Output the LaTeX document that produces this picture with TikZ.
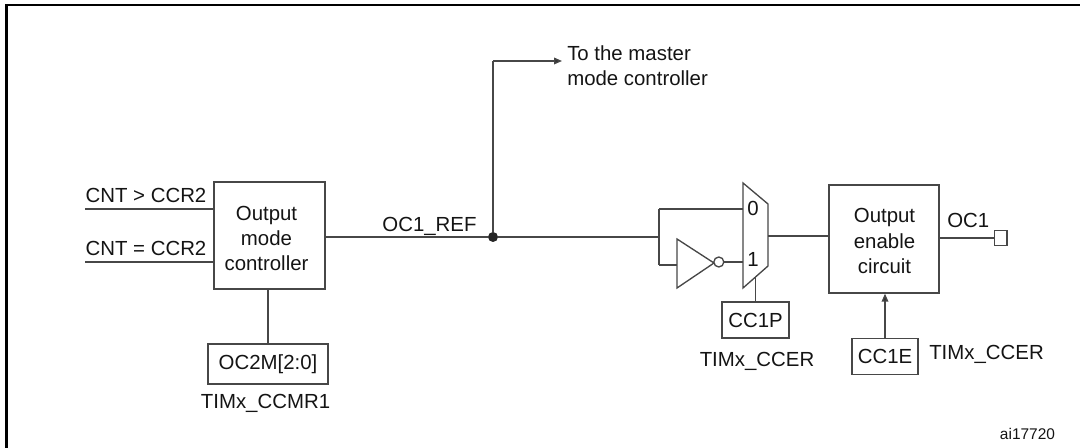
\documentclass[tikz,border=0pt]{standalone}
\usepackage{fontspec}
\setmainfont{Liberation Sans}
\usetikzlibrary{arrows.meta,calc}
\tikzset{
  wire/.style={draw=black!72,line width=1pt},
  arrowwire/.style={wire,-{Triangle[length=6pt,width=5pt,fill=black!80]}},
  frameline/.style={draw=black,line width=1.6pt},
  boxnode/.style={draw=black!72,line width=1pt,rectangle,inner sep=0pt,align=center,text=black!92,font=\fontsize{15.3pt}{19pt}\selectfont},
  boxtext/.style={inner sep=0pt,align=center,text=black!92,font=\fontsize{15.3pt}{19pt}\selectfont},
  lbl/.style={inner sep=0pt,anchor=base,text=black!92,font=\fontsize{15.3pt}{19pt}\selectfont},
  lblw/.style={lbl,anchor=base west},
  small/.style={inner sep=0pt,anchor=base,text=black!92,font=\fontsize{11.6pt}{14pt}\selectfont},
  dotnode/.style={circle,fill=black!85,inner sep=0pt,minimum size=7.5pt},
  bubble/.style={circle,draw=black!72,line width=1pt,fill=white,inner sep=0pt,minimum size=7.5pt},
  padnode/.style={rectangle,draw=black!72,line width=1pt,inner sep=0pt,minimum width=9.5pt,minimum height=11pt},
}
\begin{document}
\begin{tikzpicture}[x=0.75pt,y=-0.75pt]
\useasboundingbox (0,0) rectangle (1080,448);
\coordinate (fa) at (6.5,448);
\coordinate (fb) at (6.5,5);
\coordinate (fc) at (1080,5);
\draw[frameline] (fa) -- (fb) -- (fc);

% boxes
\node[boxnode,minimum width=83.25pt,minimum height=80.25pt] (omc) at (269.5,235.5) {};
\node[boxtext] (omct) at (266.5,238.5) {Output\\mode\\controller};
\node[boxnode,minimum width=90pt,minimum height=30pt] (ocm) at (268,364) {OC2M[2:0]};
\node[boxnode,minimum width=82.5pt,minimum height=81pt] (oec) at (884,239) {};
\node[boxtext] (oect) at (884.5,241) {Output\\enable\\circuit};
\node[boxnode,minimum width=50.25pt,minimum height=27pt] (ccp) at (755.5,320) {CC1P};
\node[boxnode,minimum width=49.5pt,minimum height=27pt] (cce) at (885,356.5) {CC1E};
\node[padnode] (pad) at (1000.5,238) {};

% multiplexer
\coordinate (m1) at (743,183);
\coordinate (m2) at (768,204);
\coordinate (m3) at (768,266);
\coordinate (m4) at (743,288);
\draw[wire,line join=miter] (m1) -- (m2) -- (m3) -- (m4) -- cycle;
\coordinate (min0) at (743,209);
\coordinate (min1) at (743,262);
\coordinate (mout) at (768,236);
\coordinate (msel) at (755.5,277);

% inverter
\coordinate (i1) at (677,239);
\coordinate (i2) at (677,288);
\coordinate (i3) at (714,263);
\draw[wire,line join=miter] (i1) -- (i2) -- (i3) -- cycle;
\coordinate (iin) at (677,265);
\node[bubble] (bub) at (718.8,262) {};

% left inputs
\coordinate (a1) at (85,209);
\coordinate (a2) at (85,262);
\draw[wire] (a1) -- (a1 -| omc.west);
\draw[wire] (a2) -- (a2 -| omc.west);

% main signal
\node[dotnode] (jn) at (493,237) {};
\coordinate (jb) at (659,237);
\coordinate (up) at (493,61);
\coordinate (mast) at (562,61);
\draw[wire] (omc.east |- jn) -- (jn) -- (jb);
\draw[wire] (jn) -- (up);
\draw[arrowwire] (up) -- (mast);
\draw[wire] (min0 -| jb) -- (jb |- iin);
\draw[wire] (min0 -| jb) -- (min0);
\draw[wire] (jb |- iin) -- (iin);
\draw[wire] (bub.east |- min1) -- (min1);
\draw[wire] (mout) -- (mout -| oec.west);
\draw[wire] (oec.east |- pad) -- (pad.west);
\draw[wire] (omc.south -| ocm.north) -- (ocm.north);
\draw[wire] (msel) -- (msel |- ccp.north);
\draw[arrowwire] (cce.north) -- (oec.south -| cce.north);

% labels
\node[lbl] (l1) at (146,203) {CNT > CCR2};
\node[lbl] (l2) at (146,256) {CNT = CCR2};
\node[lbl] (l3) at (429.5,232) {OC1\_REF};
\node[lblw] (l4) at (567,61) {To the master};
\node[lblw] (l5) at (567,86) {mode controller};
\node[lbl] (l6) at (753,216) {0};
\node[lbl] (l7) at (753,267) {1};
\node[lblw] (l8) at (947,228) {OC1};
\node[lbl] (l9) at (265.5,408) {TIMx\_CCMR1};
\node[lbl] (l10) at (757,367) {TIMx\_CCER};
\node[lbl] (l11) at (986.5,360) {TIMx\_CCER};
\node[small] (l12) at (1027.5,439) {ai17720};
\end{tikzpicture}
\end{document}
